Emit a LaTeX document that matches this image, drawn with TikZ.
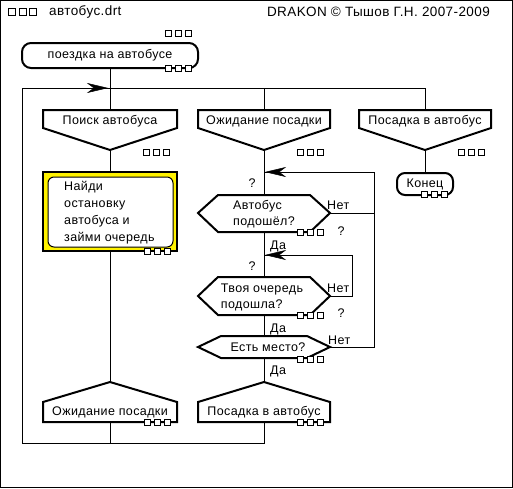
\documentclass[tikz,border=0pt]{standalone}
\usepackage{fontspec}
\setmainfont[LetterSpace=3]{Liberation Sans}
\begin{document}
\begin{tikzpicture}[x=1pt,y=-1pt,
  txt/.style={font=\fontsize{12.5}{16}\selectfont, inner sep=0pt, text=black},
  hdr/.style={font=\fontsize{13.5}{16}\selectfont, inner sep=0pt, text=black},
  shp/.style={draw, line width=2pt, fill=white, line join=miter},
  conn/.style={draw, line width=1pt},
  sqb/.style={draw, line width=1pt, fill=white},
  arrowhd/.style={fill=black, draw=black, line width=0.5pt}]
\newcommand\DrkSquares[2]{\foreach \i in {0,1,2}{\draw[sqb] ({#1+\i*10},#2) rectangle ++(6,6);}}
\useasboundingbox (0,0) rectangle (513,488);
\draw[line width=1pt] (0.5,0.5) rectangle (512.5,487.5);
% header
\foreach \i in {0,1,2}{\draw[sqb] ({8.5+\i*10.5},8.5) rectangle ++(7,7);}
\node[hdr, anchor=west] (fname) at (49,12) {автобус.drt};
\node[hdr, anchor=east] (copy) at (490,12) {DRAKON © Тышов Г.Н. 2007-2009};
% coordinates
\coordinate (titleb) at (110,68);
\coordinate (junL) at (22,88);
\coordinate (jun1) at (110,88);
\coordinate (jun2) at (264,88);
\coordinate (jun3) at (425,88);
\coordinate (h1t) at (110,110);
\coordinate (h2t) at (264,110);
\coordinate (h3t) at (425,110);
\coordinate (h1b) at (110,150);
\coordinate (h2b) at (264,150);
\coordinate (h3b) at (425,150);
\coordinate (a1t) at (110,172);
\coordinate (a1b) at (110,251);
\coordinate (ad1t) at (110,382);
\coordinate (ad1b) at (110,422);
\coordinate (ad2t) at (264,382);
\coordinate (ad2b) at (264,422);
\coordinate (botL) at (22,443);
\coordinate (bot1) at (110,443);
\coordinate (bot2) at (264,443);
\coordinate (endt) at (425,173);
\coordinate (d1t) at (264,195);
\coordinate (d1b) at (264,232);
\coordinate (d1r) at (330,213);
\coordinate (d2t) at (264,277);
\coordinate (d2b) at (264,315);
\coordinate (d2r) at (330,296);
\coordinate (d3t) at (264,336);
\coordinate (d3b) at (264,358);
\coordinate (d3r) at (330,347);
\coordinate (loop1) at (264,172);
\coordinate (loop2) at (264,255);
% connectors
\draw[conn] (titleb) -- (h1t);
\draw[conn] (junL) -- (jun3) -- (h3t);
\draw[conn] (jun2) -- (h2t);
\draw[conn] (junL) -- (botL) -- (bot2) -- (ad2b);
\draw[conn] (h1b) -- (a1t);
\draw[conn] (a1b) -- (ad1t);
\draw[conn] (ad1b) -- (bot1);
\draw[conn] (h3b) -- (endt);
\draw[conn] (h2b) -- (d1t);
\draw[conn] (d1b) -- (d2t);
\draw[conn] (d2b) -- (d3t);
\draw[conn] (d3b) -- (ad2t);
\draw[conn] (d1r) -- (374,213);
\draw[conn] (d3r) -- (374,347) -- (374,172) -- (loop1);
\draw[conn] (d2r) -- (352,296) -- (352,255) -- (loop2);
% title terminator
\draw[shp, rounded corners=9pt] (22,43) rectangle (198,68);
\node[txt] (title) at (110,55.5) {поездка на автобусе};
\DrkSquares{165}{30}
\DrkSquares{165}{65}
% headers
\draw[shp] (43,110) -- (177,110) -- (177,128) -- (110,150) -- (43,128) -- cycle;
\node[txt] (h1) at (110,121) {Поиск автобуса};
\DrkSquares{143}{149}
\draw[shp] (198,110) -- (330,110) -- (330,128) -- (264,150) -- (198,128) -- cycle;
\node[txt] (h2) at (264,121) {Ожидание посадки};
\DrkSquares{297}{149}
\draw[shp] (359,110) -- (491,110) -- (491,128) -- (425,150) -- (359,128) -- cycle;
\node[txt] (h3) at (425,121) {Посадка в автобус};
\DrkSquares{458}{149}
% action
\draw[line width=2pt, fill=yellow] (43,172) rectangle (177,251);
\draw[line width=1pt, fill=white, rounded corners=6pt] (48,177) rectangle (173,247);
\node[txt, anchor=west, align=left, font=\fontsize{12.5}{17}\selectfont] (act) at (64,213) {Найди\\остановку\\автобуса и\\займи очередь};
\DrkSquares{144}{248}
% end
\draw[shp, rounded corners=8pt] (397,173) rectangle (453,195);
\node[txt] (end) at (425,184) {Конец};
\DrkSquares{421}{191}
% decisions
\draw[shp] (198,213) -- (218,195) -- (310,195) -- (330,213) -- (310,232) -- (218,232) -- cycle;
\node[txt, align=left] (d1) at (264,214) {Автобус\\подошёл?};
\DrkSquares{297}{229}
\node[txt] (q1) at (252,183) {?};
\node[txt] (q1r) at (341,231) {?};
\node[txt, anchor=west] (n1) at (327,205) {Нет};
\node[txt, anchor=west] (y1) at (270,246) {Да};
\draw[shp] (198,296) -- (218,277) -- (310,277) -- (330,296) -- (310,315) -- (218,315) -- cycle;
\node[txt, align=left] (d2) at (262,297) {Твоя очередь\\подошла?};
\DrkSquares{297}{312}
\node[txt] (q2) at (252,266) {?};
\node[txt] (q2r) at (341,313) {?};
\node[txt, anchor=west] (n2) at (327,288) {Нет};
\node[txt, anchor=west] (y2) at (270,329) {Да};
\draw[shp] (198,347) -- (221,336) -- (307,336) -- (330,347) -- (307,358) -- (221,358) -- cycle;
\node[txt] (d3) at (268,347) {Есть место?};
\DrkSquares{297}{356}
\node[txt, anchor=west] (n3) at (328,340) {Нет};
\node[txt, anchor=west] (y3) at (270,371) {Да};
% addresses
\draw[shp] (110,382) -- (177,402) -- (177,422) -- (43,422) -- (43,402) -- cycle;
\node[txt] (ad1) at (110,412) {Ожидание посадки};
\DrkSquares{144}{419}
\draw[shp] (264,382) -- (330,402) -- (330,422) -- (198,422) -- (198,402) -- cycle;
\node[txt] (ad2) at (264,412) {Посадка в автобус};
\DrkSquares{297}{419}
% arrows
\fill[arrowhd] (107,88) -- (88,83.5) -- (94,88) -- (88,92.5) -- cycle;
\fill[arrowhd] (266,172) -- (285,167.5) -- (279,172) -- (285,176.5) -- cycle;
\fill[arrowhd] (266,255) -- (285,250.5) -- (279,255) -- (285,259.5) -- cycle;
\end{tikzpicture}
\end{document}
